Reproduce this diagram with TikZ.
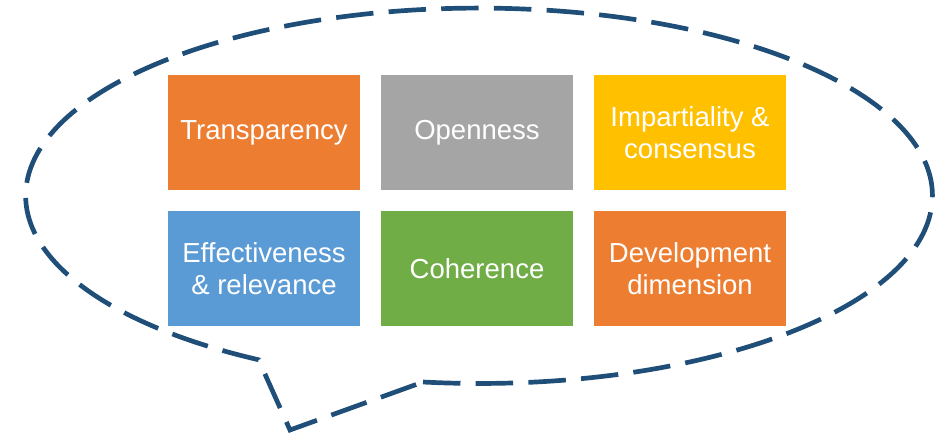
\documentclass[tikz,border=0pt]{standalone}
\usepackage{xcolor}
\usepackage{fontspec}
\usepackage{tikz}
\usetikzlibrary{positioning}
\setmainfont{Liberation Sans}
\definecolor{boxorange}{HTML}{ED7D31}
\definecolor{boxgray}{HTML}{A5A5A5}
\definecolor{boxyellow}{HTML}{FFC000}
\definecolor{boxblue}{HTML}{5B9BD5}
\definecolor{boxgreen}{HTML}{70AD47}
\definecolor{bubbleblue}{HTML}{1F4E79}

\begin{document}
\begin{tikzpicture}[x=0.03cm, y=0.03cm,
	valuebox/.style={draw=none, minimum width=5.76cm, minimum height=3.45cm, inner sep=0pt, outer sep=0pt, align=center, text=white, font=\fontsize{23.5}{27.5}\selectfont},
	bubble/.style={draw=bubbleblue, line width=4pt, dash pattern=on 32pt off 13pt, line join=miter}]
			\pgfmathsetmacro{\gapx}{0.63}
			\pgfmathsetmacro{\gapy}{0.63}
			\useasboundingbox (0,0) rectangle (935,-436);
			% speech bubble
			\draw[bubble] (423,-382) arc[start angle=262.9, end angle=600.9, x radius=13.6cm, y radius=5.63cm] -- (290,-430) -- cycle;
			% boxes
			\node[valuebox, fill=boxorange] (transparency) at (264,-132.5) {Transparency};
			\node[valuebox, fill=boxgray, right=\gapx cm of transparency] (openness) {Openness};
			\node[valuebox, fill=boxyellow, right=\gapx cm of openness] (impartiality) {Impartiality \&\\consensus};
			\node[valuebox, fill=boxblue, below=\gapy cm of transparency] (effectiveness) {Effectiveness\\\& relevance};
			\node[valuebox, fill=boxgreen, right=\gapx cm of effectiveness] (coherence) {Coherence};
			\node[valuebox, fill=boxorange, right=\gapx cm of coherence] (development) {Development\\dimension};
			\end{tikzpicture}
\end{document}
